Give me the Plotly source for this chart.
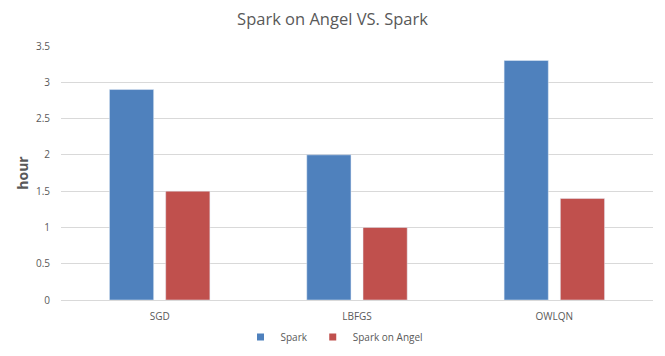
import plotly.graph_objects as go

categories = ["SGD", "LBFGS", "OWLQN"]
spark = [2.9, 2.0, 3.3]
spark_on_angel = [1.5, 1.0, 1.4]
y_ticks = [0, 0.5, 1, 1.5, 2, 2.5, 3, 3.5]
y_tick_labels = ["0", "0.5", "1", "1.5", "2", "2.5", "3", "3.5"]
series_names = ["Spark", "Spark on Angel"]
series_colors = ["#4F81BD", "#C0504D"]

fig = go.Figure()
for name, vals, col in zip(series_names, [spark, spark_on_angel], series_colors):
    fig.add_trace(go.Bar(name=name, x=categories, y=vals, marker_color=col,
                         showlegend=False, legendgroup=name))
# small square legend keys
for name, col in zip(series_names, series_colors):
    fig.add_trace(go.Scatter(name=name, x=[None], y=[None], mode="markers",
                             marker=dict(symbol="square", size=7, color=col),
                             legendgroup=name, showlegend=True))

font_family = "Open Sans, Noto Sans, sans-serif"
fig.update_layout(
    width=665, height=356,
    paper_bgcolor="white", plot_bgcolor="white",
    margin=dict(l=61, r=12, t=46, b=56, autoexpand=False),
    barmode="group", bargap=0.43, bargroupgap=0.214,
    title=dict(text="Spark on Angel VS. Spark", x=0.5, xanchor="center", y=0.947, yanchor="middle",
               font=dict(family=font_family, size=16.5, color="#595959")),
    font=dict(family=font_family, size=10, color="#595959"),
    showlegend=True,
    legend=dict(orientation="h", x=0.462, xanchor="center", y=-0.146, yanchor="middle",
                font=dict(size=10, color="#595959"), itemwidth=30, traceorder="normal"),
    xaxis=dict(showgrid=False, showline=True, linecolor="#D9D9D9", linewidth=1,
               ticks="", automargin=False, ticklabelstandoff=7,
               tickfont=dict(size=10, color="#595959")),
    yaxis=dict(range=[0, 3.5], tickvals=y_ticks, ticktext=y_tick_labels,
               showgrid=True, gridcolor="#D9D9D9", gridwidth=1, zeroline=False,
               showline=False, ticks="", ticklabelstandoff=10, automargin=False,
               tickfont=dict(size=10, color="#595959"),
               title=dict(text="<b>hour</b>", font=dict(size=14, color="#595959"), standoff=4)),
)

fig.write_html("out.html", post_script="document.body.style.margin='0';",
               config={"displayModeBar": False})
